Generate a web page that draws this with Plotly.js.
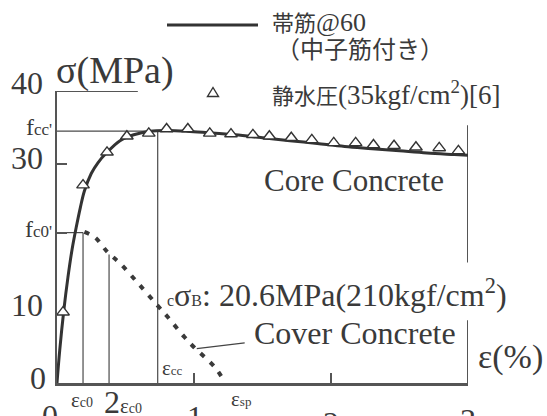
<!DOCTYPE html>
<html><head><meta charset="utf-8">
<script src="https://cdn.plot.ly/plotly-3.0.1.min.js"></script>
<style>html,body{margin:0;padding:0;background:#fff;}</style>
</head><body>
<div id="chart" style="width:547px;height:416px;"></div>
<script>
// Model curve for core concrete (strain %, stress MPa)
const coreX = [0, 0.02, 0.05, 0.08, 0.11, 0.14, 0.17, 0.2, 0.25, 0.3, 0.36, 0.46, 0.56, 0.68, 0.8, 0.95, 1.1, 1.3, 1.5, 1.7, 1.9, 2.1, 2.3, 2.5, 2.7, 2.9, 3.0];
const coreY = [0, 4.5, 10, 14.5, 18.3, 21.3, 24, 26.3, 28.7, 30.2, 31.5, 33.2, 34.0, 34.5, 34.6, 34.5, 34.3, 34.0, 33.6, 33.2, 32.8, 32.4, 32.1, 31.8, 31.5, 31.3, 31.2];
// Test results (hydrostatic pressure 35kgf/cm2)
const testX = [0.044, 0.19, 0.365, 0.51, 0.67, 0.80, 0.955, 1.115, 1.27, 1.43, 1.55, 1.71, 1.86, 2.02, 2.18, 2.31, 2.46, 2.62, 2.79, 2.93];
const testY = [9.7, 27.1, 31.6, 33.8, 34.2, 34.8, 34.8, 34.2, 34.1, 34.0, 33.8, 33.6, 33.3, 32.9, 32.9, 32.6, 32.5, 32.3, 32.2, 31.8];
// Cover concrete curve
const coverX = [0.2, 0.28, 0.37, 0.46, 0.59, 0.73, 0.81, 0.93, 1.0, 1.15, 1.23];
const coverY = [20.7, 19.9, 17.9, 16.4, 13.7, 10.7, 9.0, 6.3, 4.9, 2.2, 0.0];
// Key values
const fcc = 34.5, ecc = 0.735, fc0 = 20.6, ec0 = 0.19, cover2ec0 = 17.6;
const xTickVals = [1, 2];
const yTickVals = [fc0, 30];

const SERIF = "Liberation Serif, Times New Roman, serif";
const CJK = "Liberation Serif, Noto Sans CJK JP";
const COL = '#3a3a3a';
const L = 57, R = 468, T = 91, B = 383;
const px = x => (x - L) / (R - L);
const py = y => (B - y) / (B - T);

function ann(text, x, y, size, xa, ya, fam) {
  return {text: text, xref: 'paper', yref: 'paper', x: px(x), y: py(y),
    xanchor: xa || 'left', yanchor: ya || 'middle', showarrow: false,
    font: {family: fam || SERIF, size: size, color: COL}};
}
const sm = (t, s) => '<span style="font-size:' + s + 'px">' + t + '</span>';

const annotations = [
  ann('σ(MPa)', 54, 70, 38),
  ann('40', 45, 83, 32, 'right'),
  ann('30', 45, 158, 32, 'right'),
  ann('10', 45, 305, 32, 'right'),
  ann('0', 48, 378, 32, 'right'),
  ann('f' + sm("cc'", 17), 54, 127, 24, 'right'),
  ann('f' + sm("c0'", 17), 54, 229, 24, 'right'),
  ann('0', 50, 396, 32, 'center', 'top'),
  ann('ε' + sm('c0', 14), 69, 400, 21, 'left'),
  ann('2' + sm('ε', 21) + sm('c0', 14), 102, 402, 32, 'left'),
  ann('1', 195, 397, 32, 'center', 'top'),
  ann('2', 331, 403, 32, 'center', 'top'),
  ann('3', 468, 400, 32, 'center', 'top'),
  ann('ε' + sm('cc', 13), 160, 368, 21),
  ann('ε' + sm('sp', 13), 229, 399, 21),
  ann('ε(%)', 476, 357, 34),
  ann('Core Concrete', 262, 180, 31),
  ann(sm('c', 16) + 'σ' + sm('B', 16) + ': 20.6MPa(210kgf/cm<sup>2</sup>)', 165, 293, 32),
  ann('Cover Concrete', 252, 333, 32),
  ann('帯筋' + sm('@60', 26), 270, 23, 22, 'left', 'middle', CJK),
  ann('（中子筋付き）', 274, 50, 24, 'left', 'middle', CJK),
  ann('静水圧' + sm('(35kgf/cm<sup>2</sup>)[6]', 27), 270, 93, 22, 'left', 'middle', CJK)
];

const thin = {color: '#4a4a4a', width: 1.2};
function seg(x0, y0, x1, y1, line) {
  return {type: 'line', xref: 'x', yref: 'y', x0: x0, y0: y0, x1: x1, y1: y1, line: line || thin, layer: 'below'};
}
const shapes = [
  seg(0, fcc, ecc, fcc), seg(ecc, 0, ecc, fcc),
  seg(0, fc0, ec0, fc0), seg(ec0, 0, ec0, fc0),
  seg(2 * ec0, 0, 2 * ec0, cover2ec0),
  seg(0, 40, 0.59, 40, {color: '#555', width: 2}),
  seg(3, 0, 3, 8.6, {color: '#555', width: 2}),
  seg(3, 16.5, 3, 35.3, {color: '#555', width: 2}),
  seg(1.02, 4.7, 1.37, 5.5, {color: '#444', width: 1.3}),
  // legend key line
  {type: 'line', xref: 'paper', yref: 'paper', x0: px(167), x1: px(258), y0: py(25), y1: py(25), line: {color: '#333', width: 3}},
  // legend key triangle
  {type: 'path', xref: 'paper', yref: 'paper',
   path: 'M ' + px(207.5) + ' ' + py(96.5) + ' L ' + px(218.5) + ' ' + py(96.5) + ' L ' + px(213) + ' ' + py(87.5) + ' Z',
   fillcolor: '#fff', line: {color: '#333', width: 1.4}}
];

const traces = [
  {x: coverX, y: coverY, mode: 'lines', line: {color: '#3a3a3a', width: 4, dash: '5px,8px', shape: 'spline'}, cliponaxis: false},
  {x: coreX, y: coreY, mode: 'lines', line: {color: '#333', width: 3, shape: 'spline'}, cliponaxis: false},
  {x: testX, y: testY, mode: 'markers', marker: {symbol: 'triangle-up', size: 11, color: '#fff', line: {color: '#333', width: 1.4}}, cliponaxis: false}
];

const layout = {
  width: 547, height: 416,
  margin: {l: L, r: 547 - R, t: T, b: 416 - B, pad: 0},
  paper_bgcolor: '#fff', plot_bgcolor: '#fff',
  showlegend: false,
  xaxis: {range: [0, 3], showgrid: false, zeroline: false, showline: true, linecolor: '#555', linewidth: 2.5,
    ticks: 'inside', tickvals: xTickVals, ticklen: 10, tickwidth: 2, tickcolor: '#555', showticklabels: false},
  yaxis: {range: [0, 40], showgrid: false, zeroline: false, showline: true, linecolor: '#555', linewidth: 2.5,
    ticks: 'inside', tickvals: yTickVals, ticklen: 10, tickwidth: 2, tickcolor: '#555', showticklabels: false},
  annotations: annotations,
  shapes: shapes
};
Plotly.newPlot('chart', traces, layout, {displayModeBar: false, staticPlot: true});
</script>
</body></html>
